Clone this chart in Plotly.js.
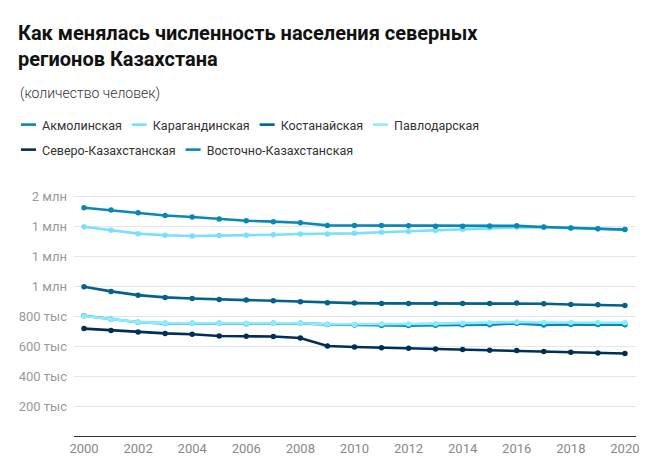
<!DOCTYPE html>
<html>
<head>
<meta charset="utf-8">
<script src="https://cdn.plot.ly/plotly-3.0.1.min.js"></script>
<style>
html,body{margin:0;padding:0;background:#fff;}
#chart{width:657px;height:475px;}
</style>
</head>
<body>
<div id="chart"></div>
<script>
var years = [2000,2001,2002,2003,2004,2005,2006,2007,2008,2009,2010,2011,2012,2013,2014,2015,2016,2017,2018,2019,2020];

var akmola = [802000,778000,758000,751000,751000,751000,749000,751000,751000,744000,740000,736000,736000,738000,742000,742000,751000,740000,744000,744000,742000];
var karaganda = [1395000,1371000,1349000,1338000,1333000,1336000,1338000,1342000,1347000,1347000,1351000,1358000,1364000,1370000,1378000,1387000,1391000,1392000,1387000,1382000,1377000];
var kostanay = [995000,964000,939000,924000,917000,910000,906000,902000,895000,888000,886000,884000,884000,884000,884000,884000,886000,882000,877000,875000,870000];
var pavlodar = [800000,778000,759000,752000,752000,752000,751000,752000,752000,745000,744000,746000,747000,749000,752000,755000,760000,757000,756000,756000,755000];
var northKaz = [716000,704000,693000,684000,678000,667000,665000,663000,653000,600000,593000,589000,585000,580000,576000,571000,570000,563000,558000,554000,550000];
var eastKaz = [1522000,1506000,1488000,1470000,1460000,1446000,1435000,1429000,1422000,1404000,1404000,1404000,1401000,1399000,1399000,1400000,1401000,1393000,1387000,1382000,1376000];

var seriesNames = ["Акмолинская","Карагандинская","Костанайская","Павлодарская","Северо-Казахстанская","Восточно-Казахстанская"];
var seriesValues = [akmola, karaganda, kostanay, pavlodar, northKaz, eastKaz];
var seriesColors = ["#0a88b4","#7adffd","#03618b","#8aedff","#002f55","#0a88b4"];

var yTickVals = [200000,400000,600000,800000,1000000,1200000,1400000,1600000];
var yTickText = ["200 тыс","400 тыс","600 тыс","800 тыс","1 млн","1 млн","1 млн","2 млн"];
var xTickVals = [2000,2002,2004,2006,2008,2010,2012,2014,2016,2018,2020];

var traces = [];
seriesNames.forEach(function(n,i){
  traces.push({
    type:"scatter", mode:"lines", name:n, x:years, y:seriesValues[i],
    legendgroup:"g"+i, showlegend:true,
    line:{color:seriesColors[i], width:2.6},
    hoverinfo:"skip"
  });
  traces.push({
    type:"scatter", mode:"markers", name:n, x:years, y:seriesValues[i],
    legendgroup:"g"+i, showlegend:false,
    marker:{color:seriesColors[i], size:5.5},
    hoverinfo:"x+y+name"
  });
});

var layout = {
  width:657, height:475,
  paper_bgcolor:"#fff", plot_bgcolor:"#fff",
  margin:{l:74, r:21, t:180, b:39},
  font:{family:"Roboto, sans-serif", color:"#333"},
  title:{
    text:"Как менялась численность населения северных<br>регионов Казахстана",
    font:{family:"Roboto, sans-serif", size:20, color:"#111", weight:700},
    xref:"container", yref:"container", x:18/657, xanchor:"left", y:1-40/475, yanchor:"top"
  },
  annotations:[{
    text:"(количество человек)", xref:"paper", yref:"paper",
    x:-56/562, xanchor:"left", y:1+(180-92)/256, yanchor:"middle",
    showarrow:false, font:{family:"Roboto, sans-serif", size:14, color:"#333", weight:300}
  }],
  showlegend:true,
  legend:{
    orientation:"h", xref:"container", yref:"container",
    x:15/657, xanchor:"left", y:1-113/475, yanchor:"top",
    bgcolor:"rgba(0,0,0,0)",
    font:{family:"Roboto, sans-serif", size:12.5, color:"#333"},
    tracegroupgap:0, itemwidth:30, traceorder:"normal"
  },
  xaxis:{
    range:[1999.63,2020.41], tickvals:xTickVals, showgrid:false, zeroline:false,
    showline:true, linecolor:"#333", linewidth:1, ticks:"",
    tickfont:{family:"Roboto, sans-serif", size:13, color:"#888"}, fixedrange:true
  },
  yaxis:{
    range:[0,1700000], tickvals:yTickVals, ticktext:yTickText,
    showgrid:true, gridcolor:"#e6e6e6", gridwidth:1, zeroline:false, showline:false, ticks:"",
    tickfont:{family:"Roboto, sans-serif", size:13, color:"#999"}, ticklabelstandoff:6, fixedrange:true
  }
};

// Flow-style legend: short swatches, items wrapped like the reference
function flowLegend(gd){
  var lg = gd.querySelector("g.legend");
  if(!lg) return;
  var sb = lg.querySelector(".scrollbox");
  if(sb) sb.removeAttribute("clip-path");
  var items = Array.prototype.slice.call(lg.querySelectorAll("g.traces"));
  if(!items.length) return;
  var swatch = 15, textGap = 6, itemGap = 10, rowH = 25, maxW = 600;
  var x = 0, y = 0;
  var pos = [];
  items.forEach(function(it){
    var p = it.querySelector(".legendlines path");
    if(p) p.setAttribute("d","M0,0h"+swatch);
    var t = it.querySelector("text.legendtext");
    var w = t ? t.getComputedTextLength() : 0;
    if(t) t.setAttribute("x", swatch+textGap);
    var full = swatch + textGap + w;
    if(x > 0 && x + full > maxW){ x = 0; y += rowH; }
    pos.push([x,y]);
    var r = it.querySelector("rect.legendtoggle");
    if(r){ r.setAttribute("x",0); r.setAttribute("width", full); }
    x += full + itemGap;
  });
  items.forEach(function(it,i){ it.setAttribute("transform","translate("+pos[i][0]+","+pos[i][1]+")"); });
  var p0 = items[0].querySelector(".legendlines path").getBoundingClientRect();
  var t0 = items[0].querySelector("text.legendtext").getBoundingClientRect();
  var dx = 21 - p0.left;
  var dy = 125 - (t0.top + t0.bottom)/2;
  items.forEach(function(it,i){ it.setAttribute("transform","translate("+(pos[i][0]+dx)+","+(pos[i][1]+dy)+")"); });
}

Plotly.newPlot("chart", traces, layout, {displayModeBar:false}).then(function(gd){
  flowLegend(gd);
});
</script>
</body>
</html>
